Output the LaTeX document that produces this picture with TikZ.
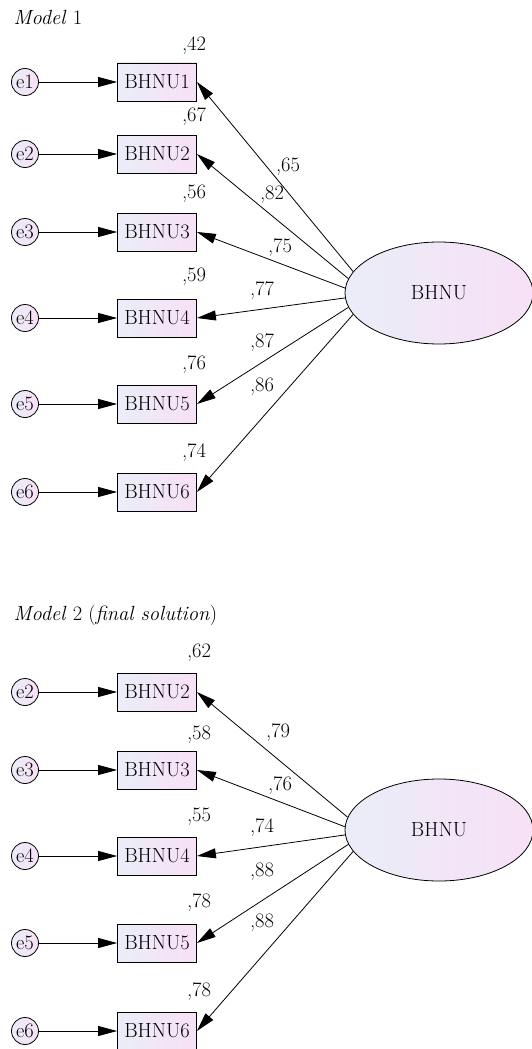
\documentclass[tikz,border=0pt]{standalone}
\usepackage{fontspec}
\usepackage{tikz}
\usetikzlibrary{arrows.meta,shapes.geometric}
\definecolor{shadeL}{RGB}{234,237,248}
\definecolor{shadeR}{RGB}{248,224,246}
\tikzset{
  obs/.style={rectangle, draw, minimum width=79pt, minimum height=38pt,
    inner sep=0pt, left color=shadeL, right color=shadeR},
  err/.style={circle, draw, minimum size=27pt, inner sep=0pt,
    left color=shadeL, right color=shadeR},
  lat/.style={ellipse, draw, minimum width=188pt, minimum height=102pt,
    inner sep=0pt, left color=shadeL, right color=shadeR},
  est/.style={inner sep=1pt}
}

\begin{document}
\begin{tikzpicture}[x=1pt, y=-1pt, line width=0.8pt,
  >={Triangle[length=19pt, width=10pt]},
  font=\fontsize{20.5}{24}\selectfont]
  \useasboundingbox (0,0) rectangle (532,1049);

  % Model 1
  \node[anchor=base west] (t1) at (10,25) {\textit{Model} 1};
  \node[lat] (F1) at (439,293) {BHNU};
  \foreach \i/\y/\ry/\r in {1/82/46/42, 2/154/117/67, 3/232/194/56,
      4/318/277/59, 5/404/365/76, 6/492/453/74} {
    \node[err] (e\i) at (25,\y) {e\i};
    \node[obs] (x\i) at (157,\y) {BHNU\i};
    \node[est] (r\i) at (194,\ry) {,\r};
    \draw[->] (e\i) -- (x\i);
  }
  \foreach \i/\a/\lx/\ly/\l in {1/166/288/167/65, 2/171/272/195/82,
      3/177/280/248/75, 4/183/262/291/77, 5/189/262/343/87,
      6/194/262/387/86} {
    \draw[->] (F1.\a) -- (x\i.east);
    \node[est] (l\i) at (\lx,\ly) {,\l};
  }

  % Model 2
  \node[anchor=base west] (t2) at (10,620)
    {\textit{Model} 2 (\textit{final solution})};
  \node[lat] (F2) at (439,830) {BHNU};
  \foreach \i/\y/\ry/\r in {2/692/653/62, 3/770/735/58, 4/856/817/55,
      5/943/903/78, 6/1031/992/78} {
    \node[err] (f\i) at (25,\y) {e\i};
    \node[obs] (y\i) at (157,\y) {BHNU\i};
    \node[est] (s\i) at (199,\ry) {,\r};
    \draw[->] (f\i) -- (y\i);
  }
  \foreach \i/\a/\lx/\ly/\l in {2/172/278/733/79, 3/178/280/786/76,
      4/183/262/828/74, 5/189/262/872/88, 6/194/262/923/88} {
    \draw[->] (F2.\a) -- (y\i.east);
    \node[est] (m\i) at (\lx,\ly) {,\l};
  }
\end{tikzpicture}
\end{document}
